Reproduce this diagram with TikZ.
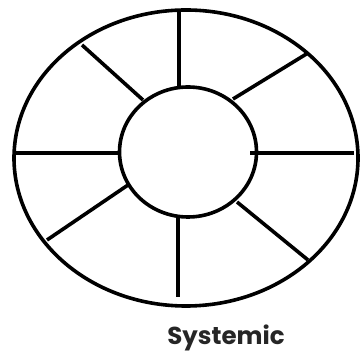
\documentclass[tikz,border=0pt]{standalone}
\usepackage{fontspec}
\setmainfont{Poppins}
\begin{document}
\begin{tikzpicture}[x=1pt,y=1pt,
  shape line/.style={line width=3.6pt, black},
  spoke/.style={line width=3.6pt, black}]
\useasboundingbox (0,0) rectangle (361,363);
\draw[shape line] (186,205) ellipse [x radius=172, y radius=148];
\draw[shape line] (188,211) ellipse [x radius=68.5, y radius=65];
\draw[spoke] (179,353) -- (179,276);
\draw[spoke] (178,148) -- (178,66);
\draw[spoke] (15,210) -- (120,210);
\draw[spoke] (250,210) -- (354,210);
\draw[spoke] (82,318) -- (143,263);
\draw[spoke] (308,310) -- (233,264);
\draw[spoke] (47,123) -- (128,178);
\draw[spoke] (237,161) -- (308,103);
\node[font=\bfseries\fontsize{24.5}{28}\selectfont, inner sep=0pt, text=black!85] (label) at (226,25) {Systemic};
\end{tikzpicture}
\end{document}
